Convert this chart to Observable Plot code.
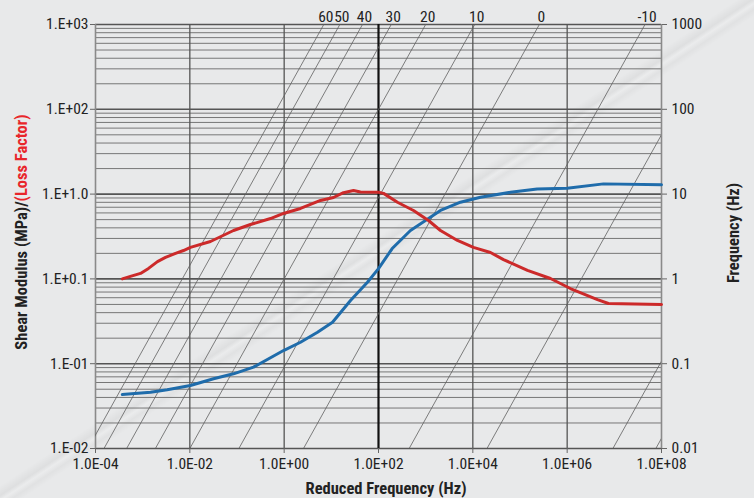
<!DOCTYPE html>
<html>
<head>
<meta charset="utf-8">
<script src="https://cdn.jsdelivr.net/npm/d3@7"></script>
<script src="https://cdn.jsdelivr.net/npm/@observablehq/plot@0.6"></script>
<style>
html, body { margin: 0; padding: 0; }
body {
  width: 754px; height: 498px; overflow: hidden;
  background-color: #e8e9ea;
  background-image: linear-gradient(146.6deg, rgba(0,0,0,0) 48.8%, rgba(0,0,0,0.045) 49.8%, rgba(255,255,255,0.12) 50.3%, rgba(0,0,0,0.03) 50.9%, rgba(0,0,0,0) 51.6%);
}
#chart svg { display: block; }
</style>
</head>
<body>
<div id="chart"></div>
<script>
// ---- data ----
const redFreq = [3.7e-4, 5.5e-4, 9.0e-4, 1.33e-3, 2.06e-3, 3.05e-3, 4.97e-3, 7.35e-3, 1.03e-2, 2.74e-2, 8.43e-2, 0.193, 0.513, 0.968, 2.22, 5.89, 11.1, 18.1, 29.5, 41.5, 100, 128, 252, 552, 1148, 2061, 4721, 10300, 23660, 44700, 1.44e5, 4.43e5, 1.17e6, 4.39e6, 7.5e6, 1e8];
const lossFactor = [1.0, 1.07, 1.16, 1.33, 1.60, 1.79, 2.0, 2.16, 2.35, 2.76, 3.72, 4.38, 5.15, 5.91, 6.77, 8.41, 9.12, 10.4, 11.0, 10.6, 10.5, 10.2, 8.02, 6.41, 4.88, 3.72, 2.84, 2.35, 2.05, 1.69, 1.26, 1.01, 0.77, 0.57, 0.513, 0.50];

const blueFreq = [3.7e-4, 1.47e-3, 3.31e-3, 1.03e-2, 3.18e-2, 8.43e-2, 0.224, 0.968, 2.22, 5.09, 10.6, 25.5, 58.3, 100, 195, 476, 1148, 2061, 5470, 14520, 62800, 2.31e5, 1e6, 5.89e6, 1e8];
const shearModulus = [0.0433, 0.0461, 0.0492, 0.0553, 0.0664, 0.076, 0.091, 0.143, 0.179, 0.235, 0.308, 0.556, 0.914, 1.32, 2.28, 3.72, 5.15, 6.41, 8.02, 9.19, 10.5, 11.5, 11.7, 13.2, 12.9];

// isotherms: temperature (°C) and log10 of the shift factor
const isoTemps = [60, 50, 40, 30, 20, 10, 0, -10, -20, -30, -40];
const isoLogShift = [-2.16, -1.82, -1.34, -0.73, 0, 1.04, 2.41, 4.65, 6.3, 8.97, 9.88];
const isoLabels = ["60", "50", "40", "30", "20", "10", "0", "-10"];

const xTicks = [1e-4, 1e-2, 1e0, 1e2, 1e4, 1e6, 1e8];
const xTickLabels = ["1.0E-04", "1.0E-02", "1.0E+00", "1.0E+02", "1.0E+04", "1.0E+06", "1.0E+08"];
const yTicks = [0.01, 0.1, 1, 10, 100, 1000];
const yLeftLabels = ["1.E-02", "1.E-01", "1.E+0.1", "1.E+1.0", "1.E+02", "1.E+03"];
const yRightLabels = ["0.01", "0.1", "1", "10", "100", "1000"];

const xTitle = "Reduced Frequency (Hz)";
const yTitleA = "Shear Modulus (MPa)/";
const yTitleB = "(Loss Factor)";
const yRightTitle = "Frequency (Hz)";

// ---- derived tables ----
const redData = redFreq.map((x, i) => ({x, y: lossFactor[i]}));
const blueData = blueFreq.map((x, i) => ({x, y: shearModulus[i]}));
const isLog10 = v => Math.abs(Math.log10(v) - Math.round(Math.log10(v))) < 1e-9;
const yMinor = d3.scaleLog().domain([0.01, 1000]).ticks().filter(v => !isLog10(v));
const isoData = isoTemps.flatMap((t, i) => [1e-7, 1e11].map(fr => ({t, x: fr, y: fr / 10 ** isoLogShift[i]})));
const isoLabelData = isoLabels.map((s, i) => ({s, x: 1000 * 10 ** isoLogShift[i], y: 1000}));
const xLab = new Map(xTicks.map((d, i) => [d, xTickLabels[i]]));
const yL = new Map(yTicks.map((d, i) => [d, yLeftLabels[i]]));
const yR = new Map(yTicks.map((d, i) => [d, yRightLabels[i]]));

const FONT = '"Liberation Sans Narrow", "Roboto Condensed", "DejaVu Sans Condensed", "Liberation Sans", sans-serif';

const chart = Plot.plot({
  width: 754,
  height: 498,
  marginLeft: 95,
  marginRight: 93,
  marginTop: 24,
  marginBottom: 50,
  style: {background: "transparent", fontFamily: FONT, fontSize: "15px", color: "#222"},
  x: {type: "log", domain: [1e-4, 1e8]},
  y: {type: "log", domain: [0.01, 1000]},
  marks: [
    Plot.ruleY(yMinor, {stroke: "#6a6a6a", strokeWidth: 0.9}),
    Plot.ruleY(yTicks, {stroke: "#555", strokeWidth: 1.6}),
    Plot.ruleX([1e-2, 1e0, 1e4, 1e6], {stroke: "#555", strokeWidth: 1.3}),
    Plot.ruleX([1e2], {stroke: "#111", strokeWidth: 2.2}),
    Plot.ruleX([1e-4, 1e8], {stroke: "#8a8a8a", strokeWidth: 1.6}),
    Plot.line(isoData, {x: "x", y: "y", z: "t", stroke: "#606060", strokeWidth: 0.8, clip: true}),
    Plot.line(blueData, {x: "x", y: "y", stroke: "#1f6cab", strokeWidth: 3}),
    Plot.line(redData, {x: "x", y: "y", stroke: "#cc2a2a", strokeWidth: 3}),
    Plot.text(isoLabelData, {x: "x", y: "y", text: "s", dx: 2, dy: -3, lineAnchor: "bottom", fontSize: 15.5, fill: "#222"}),
    Plot.axisX(xTicks, {tickFormat: d => xLab.get(d), tickSize: 5, tickPadding: 4, fontSize: 15.5, stroke: "#666", label: null}),
    Plot.axisY(yTicks, {anchor: "left", tickFormat: d => yL.get(d), tickSize: 5, tickPadding: 2, fontSize: 15.5, stroke: "#666", label: null}),
    Plot.axisY(yTicks, {anchor: "right", tickFormat: d => yR.get(d), tickSize: 5, tickPadding: 5, fontSize: 15.5, stroke: "#666", label: null})
  ]
});

document.getElementById("chart").appendChild(chart);

// axis titles
const svg = d3.select(chart);
svg.append("text")
  .attr("x", 386).attr("y", 494)
  .attr("text-anchor", "middle")
  .attr("font-family", FONT).attr("font-weight", "bold").attr("font-size", 16.5)
  .attr("fill", "#222")
  .text(xTitle);
const lt = svg.append("text")
  .attr("transform", "translate(27,232) rotate(-90)")
  .attr("text-anchor", "middle")
  .attr("font-family", FONT).attr("font-weight", "bold").attr("font-size", 16.5);
lt.append("tspan").attr("fill", "#222").text(yTitleA);
lt.append("tspan").attr("fill", "#e8262b").text(yTitleB);
svg.append("text")
  .attr("transform", "translate(739,233) rotate(-90)")
  .attr("text-anchor", "middle")
  .attr("font-family", FONT).attr("font-weight", "bold").attr("font-size", 16.5)
  .attr("fill", "#222")
  .text(yRightTitle);
</script>
</body>
</html>
